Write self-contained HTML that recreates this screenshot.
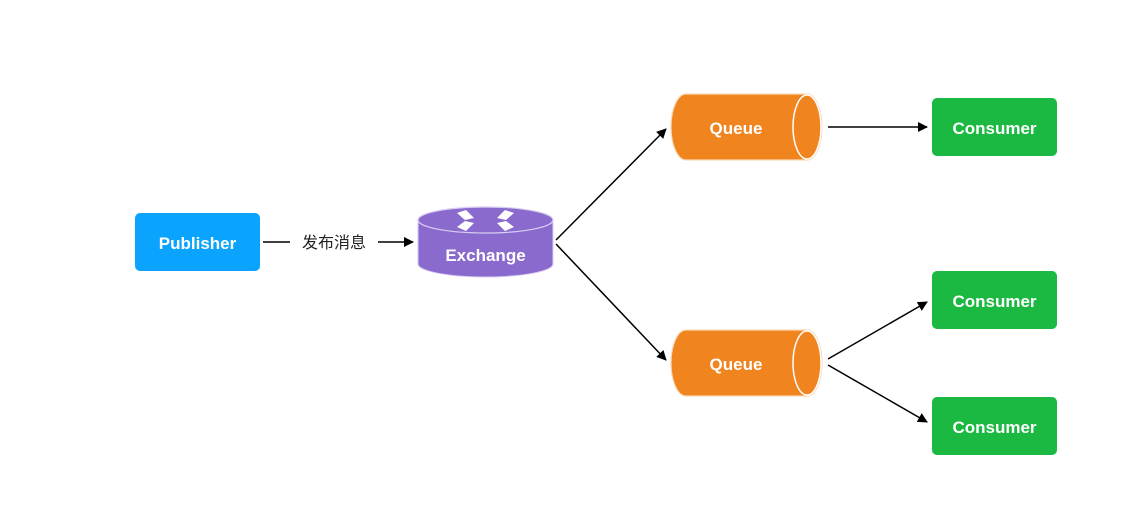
<!DOCTYPE html>
<html><head><meta charset="utf-8"><style>
html,body{margin:0;padding:0;background:#fff;width:1140px;height:525px;overflow:hidden}
text{font-family:"Liberation Sans","Noto Sans CJK SC",sans-serif}
.w{fill:#fff;font-weight:bold;font-size:17px}
</style></head><body>
<svg width="1140" height="525" viewBox="0 0 1140 525">
<defs><marker id="a" markerWidth="10" markerHeight="10" refX="9" refY="5" orient="auto" markerUnits="userSpaceOnUse"><path d="M0,0 L10,5 L0,10 z" fill="#000"/></marker></defs>
<rect x="135" y="213" width="125" height="58" rx="5" fill="#0aa4ff"/>
<text x="197.5" y="249" text-anchor="middle" class="w">Publisher</text>
<line x1="263" y1="242" x2="290" y2="242" stroke="#000" stroke-width="1.5"/>
<text x="334" y="248" text-anchor="middle" font-size="16" fill="#222">发布消息</text>
<line x1="378" y1="242" x2="413" y2="242" stroke="#000" stroke-width="1.5" marker-end="url(#a)"/>
<path d="M418,220 L418,264 A67.5,13 0 0 0 553,264 L553,220 Z" fill="#8a6bcd" stroke="#d9cdf2" stroke-width="1"/>
<ellipse cx="485.5" cy="220" rx="67.5" ry="13" fill="#8a6bcd" stroke="#d9cdf2" stroke-width="1.2"/>
<g fill="#fff">
<path d="M457,213 L466,210 L474,218 L465,220 Z"/><path d="M457,227 L466,231 L474,223 L465,221 Z"/>
<path d="M514,213 L505,210 L497,218 L506,220 Z"/><path d="M514,227 L505,231 L497,223 L506,221 Z"/>
</g>
<text x="485.5" y="261" text-anchor="middle" class="w">Exchange</text>
<line x1="556" y1="240" x2="666" y2="129" stroke="#000" stroke-width="1.5" marker-end="url(#a)"/>
<line x1="556" y1="244" x2="666" y2="360" stroke="#000" stroke-width="1.5" marker-end="url(#a)"/>
<g>
<path d="M686,94 L807,94 A15,33 0 0 1 807,160 L686,160 A15,33 0 0 1 686,94 Z" fill="#f0841f" stroke="#fbd9b8" stroke-width="1.2"/>
<ellipse cx="807" cy="127" rx="14" ry="32" fill="#f0841f" stroke="#fff" stroke-width="1.5"/>
<text x="736" y="134" text-anchor="middle" class="w">Queue</text>
</g>
<g>
<path d="M686,330 L807,330 A15,33 0 0 1 807,396 L686,396 A15,33 0 0 1 686,330 Z" fill="#f0841f" stroke="#fbd9b8" stroke-width="1.2"/>
<ellipse cx="807" cy="363" rx="14" ry="32" fill="#f0841f" stroke="#fff" stroke-width="1.5"/>
<text x="736" y="370" text-anchor="middle" class="w">Queue</text>
</g>
<line x1="828" y1="127" x2="927" y2="127" stroke="#000" stroke-width="1.5" marker-end="url(#a)"/>
<line x1="828" y1="359" x2="927" y2="302" stroke="#000" stroke-width="1.5" marker-end="url(#a)"/>
<line x1="828" y1="365" x2="927" y2="422" stroke="#000" stroke-width="1.5" marker-end="url(#a)"/>
<rect x="932" y="98" width="125" height="58" rx="5" fill="#1bb941"/>
<text x="994.5" y="134" text-anchor="middle" class="w">Consumer</text>
<rect x="932" y="271" width="125" height="58" rx="5" fill="#1bb941"/>
<text x="994.5" y="307" text-anchor="middle" class="w">Consumer</text>
<rect x="932" y="397" width="125" height="58" rx="5" fill="#1bb941"/>
<text x="994.5" y="433" text-anchor="middle" class="w">Consumer</text>
</svg>
</body></html>
